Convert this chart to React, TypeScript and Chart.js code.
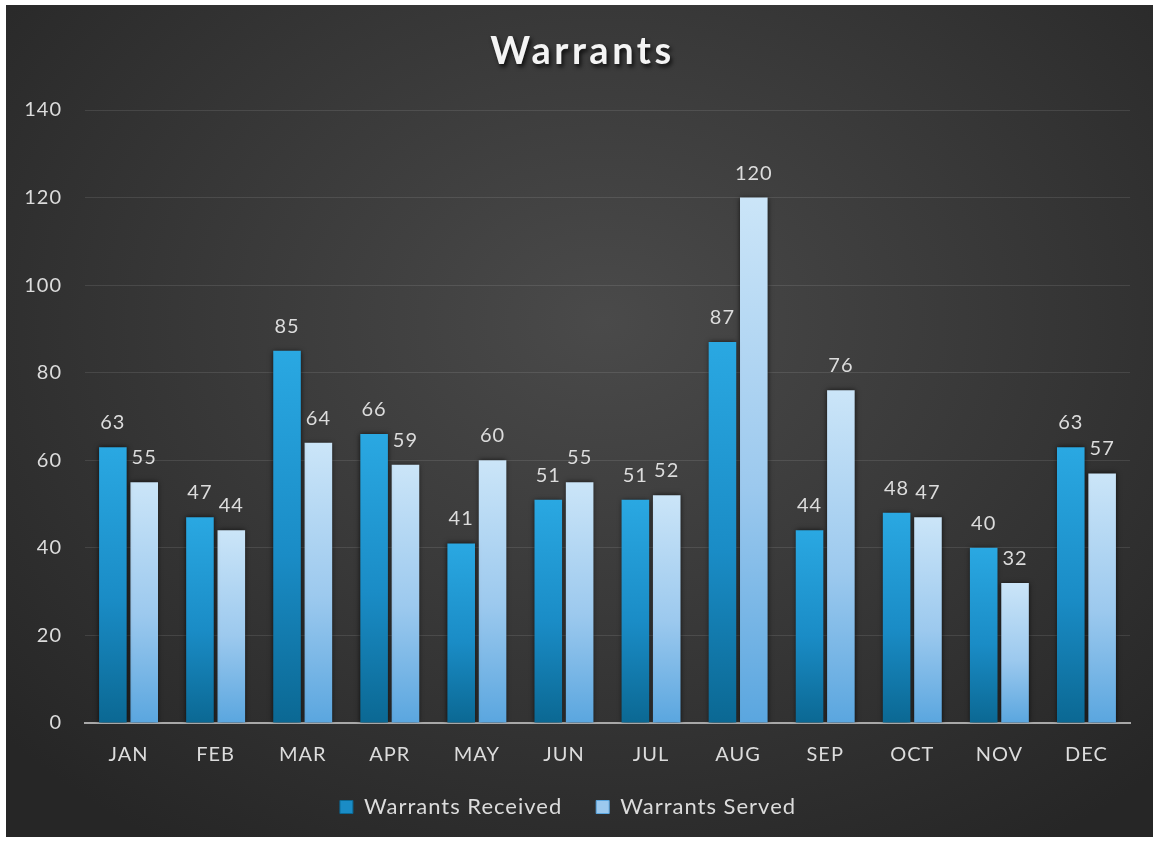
import React, { useEffect, useRef } from "react";
import { Chart, registerables } from "chart.js";

Chart.register(...registerables);

const months = ["JAN", "FEB", "MAR", "APR", "MAY", "JUN", "JUL", "AUG", "SEP", "OCT", "NOV", "DEC"];
const received = [63, 47, 85, 66, 41, 51, 51, 87, 44, 48, 40, 63];
const served = [55, 44, 64, 59, 60, 55, 52, 120, 76, 47, 32, 57];
const yTicks = [0, 20, 40, 60, 80, 100, 120, 140];
const seriesNames = ["Warrants Received", "Warrants Served"];
const chartTitle = "Warrants";

const FONT = "Lato, 'Open Sans', sans-serif";
const TEXT = "#dcdcdc";

const W = 1147;
const H = 832;

function barGradient(top: string, mid: string, bottom: string) {
  return (c: any) => {
    const chart = c.chart;
    const y = chart.scales?.y;
    if (!chart.chartArea || !y || c.raw == null) return mid;
    const yTop = y.getPixelForValue(c.raw);
    const yBot = y.getPixelForValue(0);
    if (!isFinite(yTop) || !isFinite(yBot) || yTop === yBot) return mid;
    const g = chart.ctx.createLinearGradient(0, yTop, 0, yBot);
    g.addColorStop(0, top);
    g.addColorStop(0.55, mid);
    g.addColorStop(1, bottom);
    return g;
  };
}

const spacingPlugin = {
  id: "letterSpacing",
  beforeInit(chart: any) {
    (chart.ctx as any).letterSpacing = "1px";
  },
  beforeUpdate(chart: any) {
    (chart.ctx as any).letterSpacing = "1px";
  },
  beforeDraw(chart: any) {
    (chart.ctx as any).letterSpacing = "1px";
  },
};

const titlePlugin = {
  id: "shadowTitle",
  afterDraw(chart: any) {
    const ctx = chart.ctx;
    ctx.save();
    ctx.font = `bold 38px ${FONT}`;
    (ctx as any).letterSpacing = "3.5px";
    ctx.textAlign = "center";
    ctx.textBaseline = "middle";
    ctx.shadowColor = "rgba(0,0,0,0.75)";
    ctx.shadowBlur = 4;
    ctx.shadowOffsetX = 2;
    ctx.shadowOffsetY = 3;
    ctx.fillStyle = "#f4f4f4";
    ctx.fillText(chartTitle, chart.width / 2 + 3, 47);
    ctx.restore();
  },
};

const shadowPlugin = {
  id: "barShadow",
  beforeDatasetsDraw(chart: any) {
    const ctx = chart.ctx;
    ctx.save();
    ctx.shadowColor = "rgba(0,0,0,0.7)";
    ctx.shadowBlur = 5;
    ctx.shadowOffsetX = 0;
    ctx.shadowOffsetY = 0;
  },
  afterDatasetsDraw(chart: any) {
    chart.ctx.restore();
  },
};

const labelPlugin = {
  id: "valueLabels",
  afterDatasetsDraw(chart: any) {
    const ctx = chart.ctx;
    ctx.save();
    ctx.font = `20px ${FONT}`;
    (ctx as any).letterSpacing = "1px";
    ctx.fillStyle = TEXT;
    ctx.textAlign = "center";
    ctx.textBaseline = "alphabetic";
    chart.data.datasets.forEach((ds: any, i: number) => {
      const meta = chart.getDatasetMeta(i);
      meta.data.forEach((bar: any, j: number) => {
        ctx.fillText(String(ds.data[j]), bar.x, bar.y - 18);
      });
    });
    ctx.restore();
  },
};

export default function App() {
  const ref = useRef<HTMLCanvasElement>(null);

  useEffect(() => {
    if (!ref.current) return;
    const chart = new Chart(ref.current, {
      type: "bar",
      data: {
        labels: months,
        datasets: [
          {
            label: seriesNames[0],
            data: received,
            backgroundColor: barGradient("#2aa8e2", "#1a8cc6", "#0b6893"),
            borderWidth: 0,
            categoryPercentage: 0.72,
            barPercentage: 0.88,
          },
          {
            label: seriesNames[1],
            data: served,
            backgroundColor: barGradient("#cbe5f8", "#9cc9ee", "#5aa6df"),
            borderWidth: 0,
            categoryPercentage: 0.72,
            barPercentage: 0.88,
          },
        ],
      },
      options: {
        responsive: false,
        animation: false,
        devicePixelRatio: 1,
        layout: { padding: { top: 105, right: 23, left: 0, bottom: 9 } },
        plugins: {
          title: { display: false },
          tooltip: { enabled: false },
          legend: {
            position: "bottom",
            labels: {
              color: TEXT,
              font: { family: FONT, size: 22 },
              boxWidth: 13,
              boxHeight: 13,
              padding: 34,
              generateLabels: () => [
                { text: seriesNames[0], fillStyle: "#1a8cc6", strokeStyle: "#0b6893", lineWidth: 1, fontColor: TEXT, datasetIndex: 0 },
                { text: seriesNames[1], fillStyle: "#9cc9ee", strokeStyle: "#5aa6df", lineWidth: 1, fontColor: TEXT, datasetIndex: 1 },
              ] as any,
            },
          },
        },
        scales: {
          x: {
            grid: { display: false, drawTicks: false },
            border: { display: true, color: "#a8a8a8", width: 2 },
            ticks: { color: TEXT, font: { family: FONT, size: 20 }, padding: 20 },
            afterFit: (s: any) => {
              s.height = 39;
            },
          },
          y: {
            min: 0,
            max: 140,
            afterBuildTicks: (s: any) => {
              s.ticks = yTicks.map((v) => ({ value: v }));
            },
            grid: {
              color: (c: any) => (c.tick && c.tick.value === 0 ? "rgba(0,0,0,0)" : "rgba(255,255,255,0.1)"),
              drawTicks: false,
              lineWidth: 1,
            },
            border: { display: false },
            ticks: { color: TEXT, font: { family: FONT, size: 20 }, padding: 23 },
            afterFit: (s: any) => {
              s.width = 79;
            },
          },
        },
      },
      plugins: [spacingPlugin, shadowPlugin, labelPlugin, titlePlugin],
    });
    return () => chart.destroy();
  }, []);

  return (
    <div
      style={{
        position: "absolute",
        left: 6,
        top: 5,
        width: W,
        height: H,
        background: "radial-gradient(ellipse 70% 75% at 52% 38%, #4a4a4a 0%, #3a3a3a 45%, #262626 100%)",
      }}
    >
      <canvas ref={ref} width={W} height={H} style={{ display: "block" }} />
    </div>
  );
}
